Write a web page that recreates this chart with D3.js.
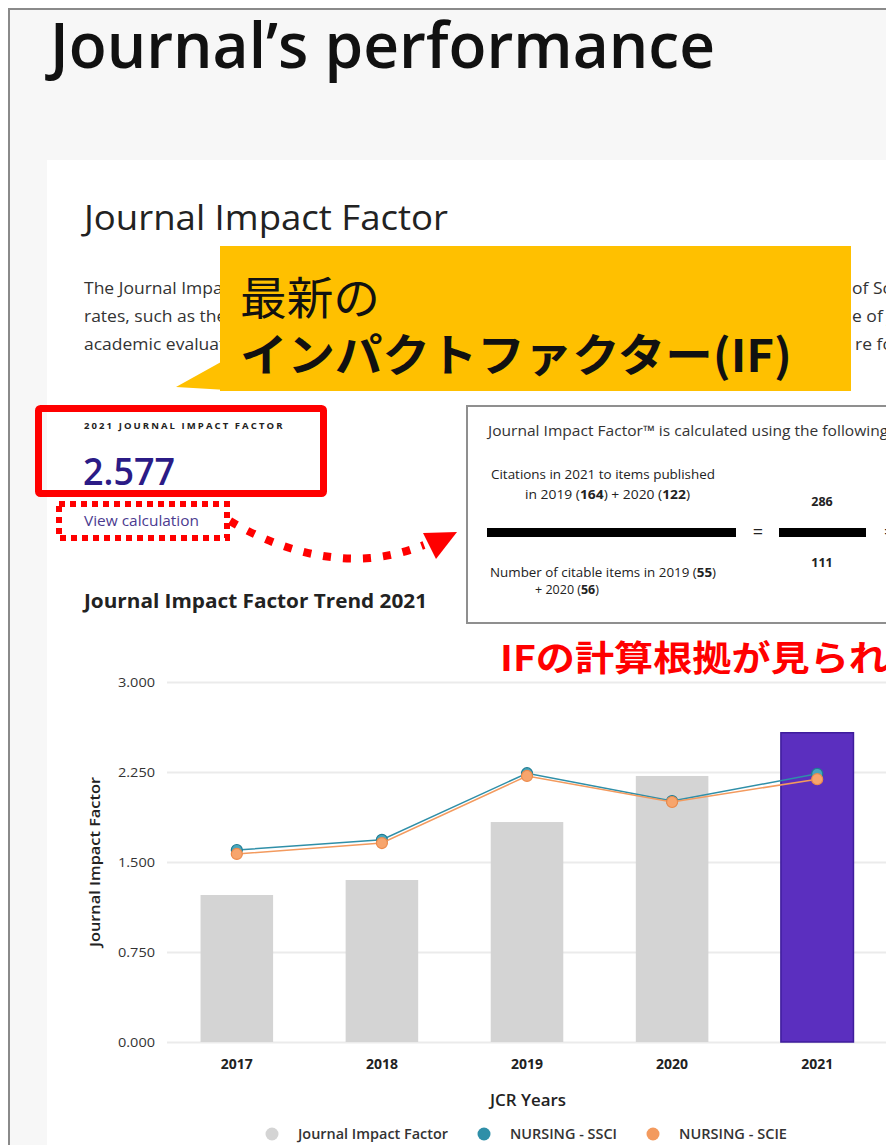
<!DOCTYPE html>
<html>
<head>
<meta charset="utf-8">
<script src="https://cdn.jsdelivr.net/npm/d3@7"></script>
<style>
  html, body { margin: 0; padding: 0; background: #f7f7f7; }
  svg { display: block; }
  text { font-family: "Open Sans", "Noto Sans", sans-serif; }
  .jp { font-family: "Noto Sans CJK JP", "Noto Sans", sans-serif; }
</style>
</head>
<body>
<div id="page"></div>
<script>
// chart data
const years = ["2017", "2018", "2019", "2020", "2021"];
const jifValues = [1.225, 1.35, 1.833, 2.217, 2.577];
const ssciValues = [1.6, 1.685, 2.24, 2.008, 2.235];
const scieValues = [1.567, 1.658, 2.217, 2.0, 2.19];
const yTicks = [0, 0.75, 1.5, 2.25, 3.0];
const legendLabels = ["Journal Impact Factor", "NURSING - SSCI", "NURSING - SCIE"];
const legendColors = ["#d4d4d4", "#2f8fa8", "#f39a5e"];

const width = 886, height = 1145;

let svg = d3.select("#page")
    .append("svg")
        .attr("width", width)
        .attr("height", height);

// page + card
svg.append("rect").attr("x", 0).attr("y", 0).attr("width", width).attr("height", height).attr("fill", "#fff");
svg.append("rect").attr("x", 9).attr("y", 9).attr("width", width).attr("height", height)
    .attr("fill", "#f7f7f7").attr("stroke", "#8a8a8a").attr("stroke-width", 2);
svg.append("rect").attr("x", 47).attr("y", 160).attr("width", width).attr("height", height)
    .attr("fill", "#fff");

// title
svg.append("text")
    .attr("x", 50).attr("y", 68)
    .attr("font-size", 63).attr("font-weight", 600).attr("fill", "#111")
    .attr("textLength", 665).attr("lengthAdjust", "spacingAndGlyphs")
    .text("Journal’s performance");

svg.append("text")
    .attr("x", 84).attr("y", 230)
    .attr("font-size", 34).attr("fill", "#222")
    .attr("textLength", 364).attr("lengthAdjust", "spacingAndGlyphs")
    .text("Journal Impact Factor");

// paragraph fragments (middle hidden by callout)
svg.append("clipPath").attr("id", "leftclip")
    .append("rect").attr("x", 0).attr("y", 260).attr("width", 230).attr("height", 100);
let para = svg.append("g").attr("clip-path", "url(#leftclip)")
    .append("g").attr("transform", "translate(84,0) scale(1.06,1)")
    .attr("font-size", 16.5).attr("fill", "#333");
["The Journal Impact Factor (JIF) is a journal-level metric",
 "rates, such as the volume and type of citing items",
 "academic evaluation for tenure, it is inappropriate"].forEach((t, i) => {
    para.append("text").attr("x", 0).attr("y", 294 + i * 28).text(t);
});
let paraR = svg.append("g").attr("font-size", 16.5).attr("fill", "#333");
[["of Science", 852], ["e of journals", 852], ["re for", 855]].forEach((t, i) => {
    paraR.append("g").attr("transform", "translate(" + t[1] + ",0) scale(1.06,1)")
        .append("text").attr("x", 0).attr("y", 294 + i * 28).text(t[0]);
});

// yellow callout
svg.append("polygon")
    .attr("points", "221,362 244,391 176,387")
    .attr("fill", "#ffc000");
svg.append("rect")
    .attr("x", 220).attr("y", 246).attr("width", 631).attr("height", 145)
    .attr("fill", "#ffc000");
svg.append("text").attr("class", "jp")
    .attr("x", 240).attr("y", 315)
    .attr("font-size", 45).attr("fill", "#111")
    .attr("textLength", 140).attr("lengthAdjust", "spacingAndGlyphs")
    .text("最新の");
svg.append("text").attr("class", "jp")
    .attr("x", 240).attr("y", 372)
    .attr("font-size", 45).attr("font-weight", 700).attr("fill", "#111")
    .attr("textLength", 552).attr("lengthAdjust", "spacingAndGlyphs")
    .text("インパクトファクター(IF)");

// JIF box
svg.append("text")
    .attr("x", 84).attr("y", 429)
    .attr("font-size", 9.5).attr("font-weight", 700).attr("fill", "#222")
    .attr("letter-spacing", 1.6)
    .attr("textLength", 200).attr("lengthAdjust", "spacing")
    .text("2021 JOURNAL IMPACT FACTOR");
svg.append("text")
    .attr("x", 83).attr("y", 485)
    .attr("font-size", 37).attr("font-weight", 600).attr("fill", "#2b1b86")
    .attr("textLength", 92).attr("lengthAdjust", "spacingAndGlyphs")
    .text("2.577");
svg.append("rect")
    .attr("x", 38.5).attr("y", 408.5).attr("width", 285).attr("height", 85).attr("rx", 2)
    .attr("fill", "none").attr("stroke", "#ff0000").attr("stroke-width", 7);

svg.append("text")
    .attr("x", 84).attr("y", 526)
    .attr("font-size", 14).attr("fill", "#4b3a8f")
    .attr("textLength", 115).attr("lengthAdjust", "spacingAndGlyphs")
    .text("View calculation");
svg.append("rect")
    .attr("x", 59).attr("y", 504).attr("width", 168).attr("height", 34)
    .attr("fill", "none").attr("stroke", "#ff0000").attr("stroke-width", 6)
    .attr("stroke-dasharray", "6,5");

// dotted arrow
svg.append("path")
    .attr("d", "M230,521 C270,545 320,562 370,558 C392,556 408,551 424,545")
    .attr("fill", "none").attr("stroke", "#ff0000").attr("stroke-width", 8)
    .attr("stroke-dasharray", "8,12");
svg.append("polygon")
    .attr("points", "423,533 457,532 436,559")
    .attr("fill", "#ff0000");

svg.append("text")
    .attr("x", 84).attr("y", 608)
    .attr("font-size", 19).attr("font-weight", 700).attr("fill", "#222")
    .attr("textLength", 343).attr("lengthAdjust", "spacingAndGlyphs")
    .text("Journal Impact Factor Trend 2021");

// calculation box
svg.append("rect")
    .attr("x", 467).attr("y", 406).attr("width", 500).attr("height", 217)
    .attr("fill", "#fff").attr("stroke", "#8f8f8f").attr("stroke-width", 2);
let calc = svg.append("g").attr("fill", "#333");
calc.append("text").attr("x", 488).attr("y", 436).attr("font-size", 14.5)
    .attr("textLength", 458).attr("lengthAdjust", "spacingAndGlyphs")
    .text("Journal Impact Factor™ is calculated using the following metrics");
calc.append("text").attr("x", 491).attr("y", 479).attr("font-size", 12.5).attr("fill", "#222")
    .attr("textLength", 224).attr("lengthAdjust", "spacingAndGlyphs")
    .text("Citations in 2021 to items published");
let l2 = calc.append("text").attr("x", 525).attr("y", 499).attr("font-size", 12.5).attr("fill", "#222")
    .attr("textLength", 165).attr("lengthAdjust", "spacingAndGlyphs");
l2.append("tspan").text("in 2019 (");
l2.append("tspan").attr("font-weight", 700).text("164");
l2.append("tspan").text(") + 2020 (");
l2.append("tspan").attr("font-weight", 700).text("122");
l2.append("tspan").text(")");
calc.append("rect").attr("x", 487).attr("y", 528).attr("width", 249).attr("height", 9).attr("fill", "#000");
calc.append("text").attr("x", 758).attr("y", 538).attr("font-size", 18).attr("text-anchor", "middle").attr("fill", "#222").text("=");
calc.append("rect").attr("x", 779).attr("y", 528).attr("width", 87).attr("height", 9).attr("fill", "#000");
calc.append("text").attr("x", 884).attr("y", 538).attr("font-size", 18).attr("fill", "#222").text("=");
calc.append("text").attr("x", 822).attr("y", 506).attr("font-size", 12.5).attr("font-weight", 700)
    .attr("text-anchor", "middle").attr("fill", "#222").text("286");
calc.append("text").attr("x", 822).attr("y", 567).attr("font-size", 12.5).attr("font-weight", 700)
    .attr("text-anchor", "middle").attr("fill", "#222").text("111");
let l3 = calc.append("text").attr("x", 490).attr("y", 577).attr("font-size", 12.5).attr("fill", "#222")
    .attr("textLength", 226).attr("lengthAdjust", "spacingAndGlyphs");
l3.append("tspan").text("Number of citable items in 2019 (");
l3.append("tspan").attr("font-weight", 700).text("55");
l3.append("tspan").text(")");
let l4 = calc.append("text").attr("x", 567).attr("y", 594).attr("font-size", 12.5).attr("fill", "#222")
    .attr("text-anchor", "middle");
l4.append("tspan").text("+ 2020 (");
l4.append("tspan").attr("font-weight", 700).text("56");
l4.append("tspan").text(")");

// red note
svg.append("text").attr("class", "jp")
    .attr("x", 500).attr("y", 671)
    .attr("font-size", 35).attr("font-weight", 700).attr("fill", "#ff0000")
    .attr("textLength", 427).attr("lengthAdjust", "spacingAndGlyphs")
    .text("IFの計算根拠が見られる");

//
// CHART
//
let x = d3.scaleBand()
    .domain(years)
    .range([128, 926])
    .padding(0.5);

let y = d3.scaleLinear()
    .domain([0, 3])
    .range([1042, 682]);

// y axis + gridlines
let yAxis = svg.append("g")
    .attr("transform", "translate(167,0)")
    .call(d3.axisLeft(y).tickValues(yTicks).tickFormat(d3.format(".3f")).tickSize(-760).tickPadding(12));
yAxis.select(".domain").remove();
yAxis.selectAll(".tick line").attr("stroke", "#ebebeb").attr("stroke-width", 2);
yAxis.selectAll(".tick text")
    .attr("fill", "#333").attr("font-size", 13)
    .style("font-family", "'Open Sans', sans-serif")
    .attr("textLength", 37).attr("lengthAdjust", "spacingAndGlyphs");

// x axis
let xAxis = svg.append("g")
    .attr("transform", "translate(0,1042)")
    .call(d3.axisBottom(x).tickSize(0).tickPadding(17));
xAxis.select(".domain").remove();
xAxis.selectAll(".tick text")
    .attr("fill", "#222").attr("font-size", 13.5).attr("font-weight", 700)
    .style("font-family", "'Open Sans', sans-serif")
    .attr("textLength", 32).attr("lengthAdjust", "spacingAndGlyphs");

// bars
svg.append("g")
    .selectAll("rect")
    .data(years)
    .enter()
    .append("rect")
        .attr("x", d => x(d))
        .attr("y", (d, i) => y(jifValues[i]))
        .attr("width", x.bandwidth())
        .attr("height", (d, i) => y(0) - y(jifValues[i]))
        .attr("fill", (d, i) => i === years.length - 1 ? "#5b2fbf" : "#d4d4d4")
        .attr("stroke", (d, i) => i === years.length - 1 ? "#3e1c9c" : "none")
        .attr("stroke-width", 1.5);

// lines
const cx = d => x(d) + x.bandwidth() / 2;
[[ssciValues, "#2f8fa8", "#1f7c93", "#49a7bd"], [scieValues, "#f39a5e", "#ec8a4b", "#f7a56d"]].forEach(s => {
    let line = d3.line()
        .x((d, i) => cx(years[i]))
        .y(d => y(d));
    svg.append("path")
        .datum(s[0])
        .attr("d", line)
        .attr("fill", "none")
        .attr("stroke", s[1])
        .attr("stroke-width", 1.5);
    svg.append("g")
        .selectAll("circle")
        .data(s[0])
        .enter()
        .append("circle")
            .attr("cx", (d, i) => cx(years[i]))
            .attr("cy", d => y(d))
            .attr("r", 5.5)
            .attr("fill", s[3])
            .attr("stroke", s[2])
            .attr("stroke-width", 1.2);
});

// axis labels
svg.append("text")
    .attr("text-anchor", "middle")
    .attr("transform", "translate(100,862)rotate(-90)")
    .attr("font-size", 14.5).attr("font-weight", 600).attr("fill", "#222")
    .attr("textLength", 170).attr("lengthAdjust", "spacingAndGlyphs")
    .text("Journal Impact Factor");

svg.append("text")
    .attr("text-anchor", "middle")
    .attr("x", 528).attr("y", 1106)
    .attr("font-size", 17).attr("font-weight", 600).attr("fill", "#222")
    .attr("textLength", 76).attr("lengthAdjust", "spacingAndGlyphs")
    .text("JCR Years");

// legend
const legendX = [272, 484, 653];
const legendW = [150, 107, 108];
let legend = svg.append("g");
legendLabels.forEach((lab, i) => {
    legend.append("circle")
        .attr("cx", legendX[i]).attr("cy", 1134).attr("r", 6.5)
        .attr("fill", legendColors[i]);
    legend.append("text")
        .attr("x", legendX[i] + 26).attr("y", 1139)
        .attr("font-size", 14.5).attr("font-weight", 600).attr("fill", "#333")
        .attr("textLength", legendW[i]).attr("lengthAdjust", "spacingAndGlyphs")
        .text(lab);
});
</script>
</body>
</html>
